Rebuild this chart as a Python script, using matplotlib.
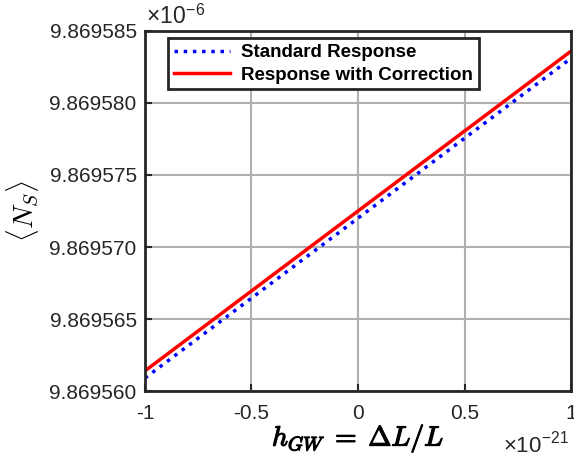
import numpy as np
import matplotlib.pyplot as plt
import matplotlib.patheffects as pe

# h_GW in units of 1e-21, <N_S> in units of 1e-6
h_gw = [-1.0, 1.0]
ns_standard = [9.8695609, 9.8695831]
ns_corrected = [9.8695614, 9.8695836]

xticks = [-1, -0.5, 0, 0.5, 1]
xticklabels = ['-1', '-0.5', '0', '0.5', '1']
yticks = [9.869560, 9.869565, 9.869570, 9.869575, 9.869580, 9.869585]

plt.rcParams['font.family'] = ['Liberation Sans', 'DejaVu Sans']
plt.rcParams['mathtext.fontset'] = 'cm'

fig = plt.figure(figsize=(5.74, 4.59), dpi=100)
ax = fig.add_axes([0.2526, 0.1481, 0.7422, 0.7844])

ax.plot(h_gw, ns_standard, ':', color='blue', lw=2.5, label='Standard Response')
ax.plot(h_gw, ns_corrected, '-', color='red', lw=2.5, label='Response with Correction')

ax.set_xlim(-1, 1)
ax.set_ylim(9.869560, 9.869585)
ax.set_xticks(xticks)
ax.set_xticklabels(xticklabels)
ax.set_yticks(yticks)
ax.set_yticklabels(['%.6f' % v for v in yticks])
ax.tick_params(direction='in', labelsize=15, length=5, width=1.5, colors='#262626')
ax.tick_params(axis='x', pad=9)
ax.tick_params(axis='y', pad=6)
ax.grid(True, color='#b0b0b0', lw=1.5)
ax.set_axisbelow(True)
for s in ax.spines.values():
    s.set_linewidth(2)
    s.set_color('#262626')

# bold-ish latex label (stroke makes all glyphs heavy)
xl = ax.set_xlabel(r'$h_{GW}\;=\;\Delta L/L$', fontsize=20, labelpad=0)
xl.set_path_effects([pe.withStroke(linewidth=0.9, foreground='black')])
ax.set_ylabel(r'$\langle N_S\rangle$', fontsize=20, labelpad=6)

ax.text(0.003, 1.005, '×10$^{\\mathregular{-6}}$', transform=ax.transAxes,
        fontsize=16.5, color='#262626', ha='left', va='bottom')
ax.text(0.995, -0.115, '×10$^{\\mathregular{-21}}$', transform=ax.transAxes,
        fontsize=16, color='#262626', ha='right', va='top')

leg = ax.legend(loc='upper left', bbox_to_anchor=(0.045, 0.99),
                prop={'weight': 'bold', 'size': 13.5}, fancybox=False,
                edgecolor='#262626', framealpha=1, handlelength=3.0,
                handletextpad=0.6, borderpad=0.3, labelspacing=0.3,
                borderaxespad=0.2)
leg.get_frame().set_linewidth(2)

fig.savefig('out.png', dpi=100)
